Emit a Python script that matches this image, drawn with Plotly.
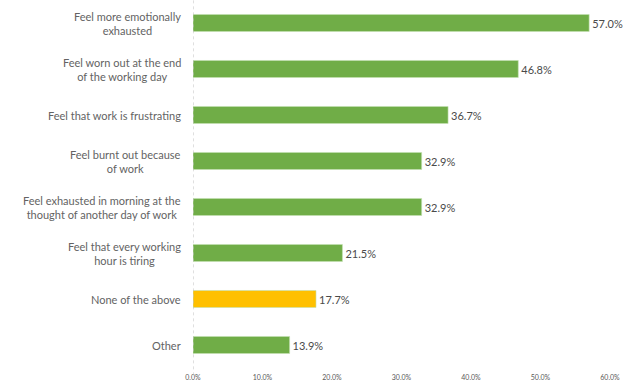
import plotly.graph_objects as go

categories = [
    "Feel more emotionally<br>exhausted",
    "Feel worn out at the end<br>of the working day",
    "Feel that work is frustrating",
    "Feel burnt out because<br>of work",
    "Feel exhausted in morning at the<br>thought of another day of work",
    "Feel that every working<br>hour is tiring",
    "None of the above",
    "Other",
]
values = [57.0, 46.8, 36.7, 32.9, 32.9, 21.5, 17.7, 13.9]
colors = ["#70AD47"] * 6 + ["#FFC000", "#70AD47"]
x_ticks = [0, 10, 20, 30, 40, 50, 60]
x_tick_labels = ["0.0%", "10.0%", "20.0%", "30.0%", "40.0%", "50.0%", "60.0%"]

fig = go.Figure(
    go.Bar(
        x=values,
        y=categories,
        orientation="h",
        marker=dict(color=colors, line=dict(color="#C5E0B4", width=0.6)),
        text=[f"{v:.1f}%" for v in values],
        textposition="outside",
        cliponaxis=False,
        textfont=dict(family="Lato, Open Sans, sans-serif", size=11, color="#4A4A4A"),
        width=0.37,
    )
)

for c in categories:
    fig.add_annotation(
        x=0, xref="paper", y=c, yref="y",
        text=c, showarrow=False, align="center",
        xanchor="right", yanchor="middle", xshift=-10,
        font=dict(family="Lato, Open Sans, sans-serif", size=11, color="#636363"),
    )

fig.add_shape(
    type="line", x0=0, x1=0, xref="x", y0=-0.02, y1=1, yref="paper",
    line=dict(color="#BFBFBF", width=1, dash="dot"),
)

fig.update_layout(
    width=644, height=387,
    margin=dict(l=193, r=34, t=0, b=19),
    paper_bgcolor="white", plot_bgcolor="white",
    showlegend=False,
    xaxis=dict(
        range=[0, 60], tickvals=x_ticks, ticktext=x_tick_labels,
        showgrid=False, zeroline=False, showline=False,
        tickfont=dict(family="Lato, Open Sans, sans-serif", size=7, color="#595959"),
        ticks="", ticklen=0, ticklabelstandoff=4,
    ),
    yaxis=dict(
        autorange="reversed", showticklabels=False, showgrid=False,
        zeroline=False, showline=False, ticks="",
    ),
)

fig.write_html("out.html")
